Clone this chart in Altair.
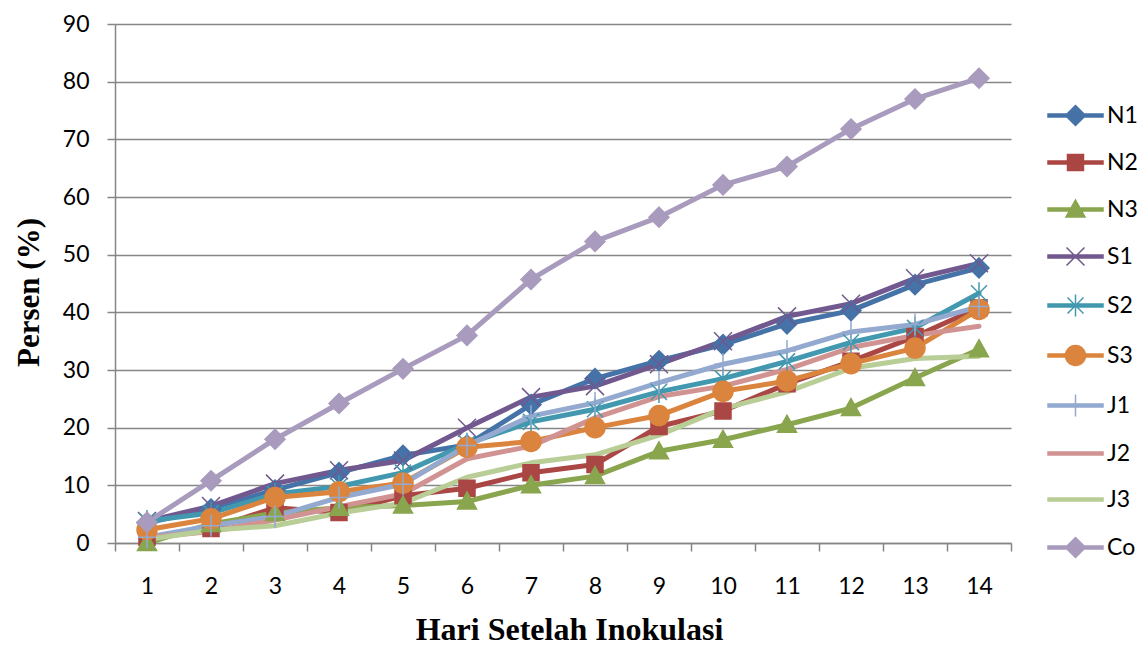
import altair as alt
import pandas as pd

days = list(range(1, 15))
series_names = ["N1", "N2", "N3", "S1", "S2", "S3", "J1", "J2", "J3", "Co"]

N1 = [3.5, 5.9, 9.2, 12.2, 15.2, 17.0, 24.0, 28.5, 31.6, 34.4, 38.0, 40.3, 44.8, 47.7]
N2 = [1.0, 2.5, 6.1, 5.3, 8.2, 9.5, 12.2, 13.6, 20.2, 22.9, 27.6, 31.5, 35.8, 40.8]
N3 = [0.0, 3.3, 5.2, 6.1, 6.5, 7.2, 10.0, 11.6, 15.9, 17.9, 20.5, 23.4, 28.6, 33.6]
S1 = [3.8, 6.4, 10.3, 12.6, 14.3, 20.0, 25.3, 27.2, 31.0, 35.0, 39.3, 41.5, 45.9, 48.5]
S2 = [3.8, 5.2, 8.5, 9.8, 12.2, 17.2, 21.0, 23.2, 26.2, 28.5, 31.5, 34.8, 37.3, 43.3]
S3 = [2.3, 4.2, 7.9, 8.9, 10.4, 16.6, 17.6, 20.0, 22.1, 26.3, 28.1, 31.1, 33.8, 40.5]
J1 = [1.0, 3.0, 4.6, 7.9, 10.2, 16.9, 22.0, 24.3, 27.8, 31.0, 33.3, 36.6, 37.9, 41.0]
J2 = [0.9, 2.0, 4.0, 6.3, 8.5, 14.6, 16.8, 21.7, 25.4, 27.2, 30.1, 33.9, 36.0, 37.6]
J3 = [0.6, 2.2, 3.0, 5.2, 6.9, 11.4, 13.9, 15.3, 18.7, 23.3, 26.2, 30.3, 32.0, 32.4]
Co = [3.6, 10.8, 18.0, 24.2, 30.2, 36.0, 45.7, 52.3, 56.5, 62.1, 65.3, 71.8, 77.0, 80.6]

values_by_series = {"N1": N1, "N2": N2, "N3": N3, "S1": S1, "S2": S2,
                    "S3": S3, "J1": J1, "J2": J2, "J3": J3, "Co": Co}

colors = ["#4572A7", "#AA4643", "#89A54E", "#71588F", "#4198AF",
          "#DB843D", "#93A9CF", "#D19392", "#B9CD96", "#A99BBD"]

DIAMOND = "M0,-1L1,0L0,1L-1,0Z"
SQUARE = "M-0.8,-0.8L0.8,-0.8L0.8,0.8L-0.8,0.8Z"
TRIANGLE = "M0,-0.95L0.95,0.75L-0.95,0.75Z"
XMARK = "M-0.9,-0.9L0.9,0.9M-0.9,0.9L0.9,-0.9"
STAR = "M-0.8,-0.8L0.8,0.8M-0.8,0.8L0.8,-0.8M0,-1.1L0,1.1"
CIRCLE = "M-1,0A1,1,0,1,1,1,0A1,1,0,1,1,-1,0Z"
PLUS = "M0,-1.1L0,1.1M-0.9,0L0.9,0"
NONE = "M0,0"
marker_paths = [DIAMOND, SQUARE, TRIANGLE, XMARK, STAR, CIRCLE, PLUS, NONE, NONE, DIAMOND]
LINE = "M-2.75,-0.15L2.75,-0.15L2.75,0.15L-2.75,0.15Z"
legend_paths = [LINE + p if p != NONE else LINE for p in marker_paths]

rows = []
for name in series_names:
    for d, v in zip(days, values_by_series[name]):
        rows.append({"day": d, "series": name, "value": v})
df = pd.DataFrame(rows)

GRAY = "#868686"
LABEL_FONT = "Lato"
TITLE_FONT = "Liberation Serif"

x_enc = alt.X(
    "day:O",
    scale=alt.Scale(type="band", paddingInner=0, paddingOuter=0),
    bandPosition=0.5,
    axis=alt.Axis(
        title="Hari Setelah Inokulasi", labelAngle=0, tickBand="extent",
        tickSize=8, tickColor=GRAY, tickWidth=1.5, domainColor=GRAY, domainWidth=1.5,
        grid=False, labelFont=LABEL_FONT, labelFontSize=23, labelColor="black",
        labelBaseline="alphabetic", labelPadding=42,
        titleFont=TITLE_FONT, titleFontWeight="bold", titleFontSize=32, titleColor="black",
        titleX=454, titleY=96, titleBaseline="alphabetic", titleAlign="center",
    ),
)
y_enc = alt.Y(
    "value:Q",
    scale=alt.Scale(domain=[0, 90], nice=False, zero=True),
    axis=alt.Axis(
        title="Persen (%)", values=list(range(0, 91, 10)), tickSize=8, tickColor=GRAY,
        tickWidth=1.5, domainColor=GRAY, domainWidth=1.5, grid=True, gridColor=GRAY,
        gridWidth=1.5, labelFont=LABEL_FONT, labelFontSize=23, labelColor="black",
        labelPadding=18,
        titleFont=TITLE_FONT, titleFontWeight="bold", titleFontSize=31, titleColor="black",
        titleX=-77, titleY=268, titleBaseline="alphabetic", titleAlign="center", titleAngle=270,
    ),
)

base = alt.Chart(df)

lines = base.mark_line(strokeWidth=5, strokeJoin="round", strokeCap="round").encode(
    x=x_enc, y=y_enc,
    color=alt.Color("series:N", scale=alt.Scale(domain=series_names, range=colors), legend=None),
)

points = base.transform_filter(
    "datum.series != 'J2' && datum.series != 'J3'"
).mark_point(filled=True, size=400, strokeWidth=1.5, opacity=1).encode(
    x=x_enc, y=y_enc,
    fill=alt.Fill("series:N", scale=alt.Scale(domain=series_names, range=colors), legend=None),
    stroke=alt.Stroke("series:N", scale=alt.Scale(domain=series_names, range=colors), legend=None),
    shape=alt.Shape("series:N", scale=alt.Scale(domain=series_names, range=marker_paths), legend=None),
)

leg = alt.Legend(
    title=None, orient="none", legendX=932, legendY=80, symbolSize=400,
    symbolStrokeWidth=1.5, symbolOffset=17, labelOffset=20, labelFont=LABEL_FONT,
    labelFontSize=23, labelColor="black", rowPadding=22, padding=0, symbolOpacity=1,
)

legend_layer = base.transform_filter("datum.day < 0").mark_point(
    filled=True, size=400, strokeWidth=1.5, opacity=1
).encode(
    x=x_enc, y=y_enc,
    fill=alt.Fill("series:N", scale=alt.Scale(domain=series_names, range=colors), legend=leg),
    stroke=alt.Stroke("series:N", scale=alt.Scale(domain=series_names, range=colors), legend=leg),
    shape=alt.Shape("series:N", scale=alt.Scale(domain=series_names, range=legend_paths), legend=leg),
)

chart = alt.layer(lines, points, legend_layer).resolve_scale(
    color="independent", fill="independent", stroke="independent", shape="independent"
).properties(
    width=896, height=519,
    autosize=alt.AutoSizeParams(type="none"),
    padding={"left": 115, "top": 24, "right": 129, "bottom": 102},
    background="white",
).configure_view(stroke=None)

chart.save("out.html", embed_options={"renderer": "svg", "actions": False})
